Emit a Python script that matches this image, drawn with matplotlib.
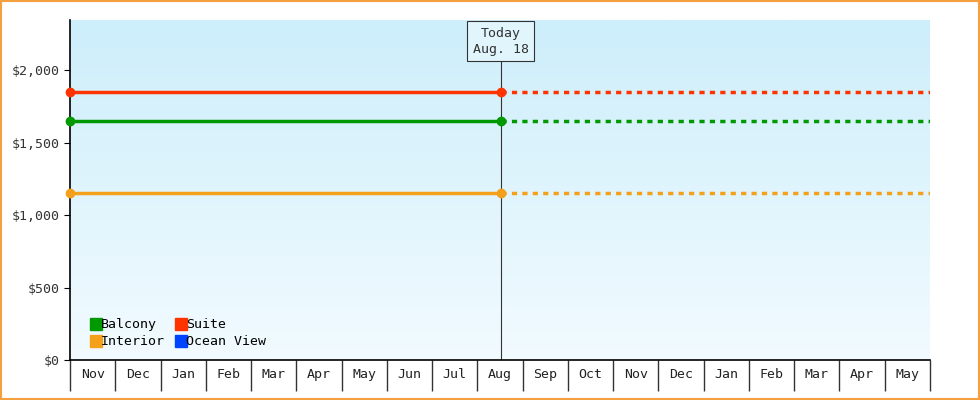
import matplotlib
matplotlib.use("Agg")
import matplotlib.pyplot as plt
import numpy as np
from matplotlib.patches import Rectangle
from matplotlib.lines import Line2D
from matplotlib.colors import LinearSegmentedColormap

months = ["Nov","Dec","Jan","Feb","Mar","Apr","May","Jun","Jul","Aug","Sep","Oct","Nov","Dec","Jan","Feb","Mar","Apr","May"]
series = ["Balcony","Suite","Interior","Ocean View"]
colors = {"Balcony":"#009900","Suite":"#ff3300","Interior":"#f5a01a","Ocean View":"#0044ff"}
prices = {"Suite":1850,"Balcony":1650,"Interior":1150}
today_pos = 9 + 16/31
yticks = [0,500,1000,1500,2000]

plt.rcParams['font.family'] = ['DejaVu Sans Mono']
fig = plt.figure(figsize=(9.8,4.0), dpi=100)
fig.patch.set_facecolor("white")
fig.add_artist(Rectangle((0.001,0.002),0.998,0.995,transform=fig.transFigure,fill=False,edgecolor="#f5a040",lw=1.5))
ax = fig.add_axes([70/980, 40/400, 860/980, 340/400])
ymax = 2345
ax.set_xlim(0, len(months)); ax.set_ylim(0, ymax)
grad = np.linspace(0,1,256).reshape(-1,1)
cm = LinearSegmentedColormap.from_list("g", ["#f2fbff","#cdeefb"])
ax.imshow(grad, extent=[0,len(months),0,ymax], aspect="auto", cmap=cm, origin="lower", zorder=0)

for name in ["Interior","Balcony","Suite"]:
    v = prices[name]; c = colors[name]
    ax.plot([0,today_pos],[v,v],color=c,lw=2.5,marker="o",ms=6,zorder=3,clip_on=False)
    ax.plot([today_pos,len(months)],[v,v],color=c,lw=2.5,ls=(0,(1.5,1.5)),zorder=3)

ax.plot([today_pos,today_pos],[0,2070],color="#333333",lw=0.8,zorder=2)
ax.text(today_pos, 2200, "Today\nAug. 18", ha="center", va="center", fontsize=9.5, color="#333333",
        bbox=dict(boxstyle="square,pad=0.4", fc="#e0f5fc", ec="#333333", lw=0.8), zorder=5, linespacing=1.3)

for s in ["top","right"]: ax.spines[s].set_visible(False)
ax.spines["left"].set_linewidth(1.2); ax.spines["bottom"].set_linewidth(1.2)
ax.set_yticks(yticks)
ax.set_yticklabels(["$0","$500","$1,000","$1,500","$2,000"], fontsize=9.5, color="#333333")
ax.tick_params(axis="y", length=4)
ax.set_xticks(np.arange(len(months)+1))
ax.set_xticklabels([])
ax.tick_params(axis="x", which="major", length=22, color="#333333", width=1)
ax.set_xticks(np.arange(len(months))+0.5, minor=True)
ax.set_xticklabels(months, minor=True, fontsize=9.5, color="#222222")
ax.tick_params(axis="x", which="minor", length=0, pad=6)

order = ["Balcony","Interior","Suite","Ocean View"]
handles = [Line2D([],[],marker="s",ls="",color=colors[n],ms=9) for n in order]
ax.legend(handles, order, ncol=2, loc="lower left", bbox_to_anchor=(0.01,0.0), frameon=False,
          fontsize=9.5, handlelength=0.8, handletextpad=0.0, columnspacing=0.8, labelspacing=0.3)
fig.savefig("out.png", dpi=100)
